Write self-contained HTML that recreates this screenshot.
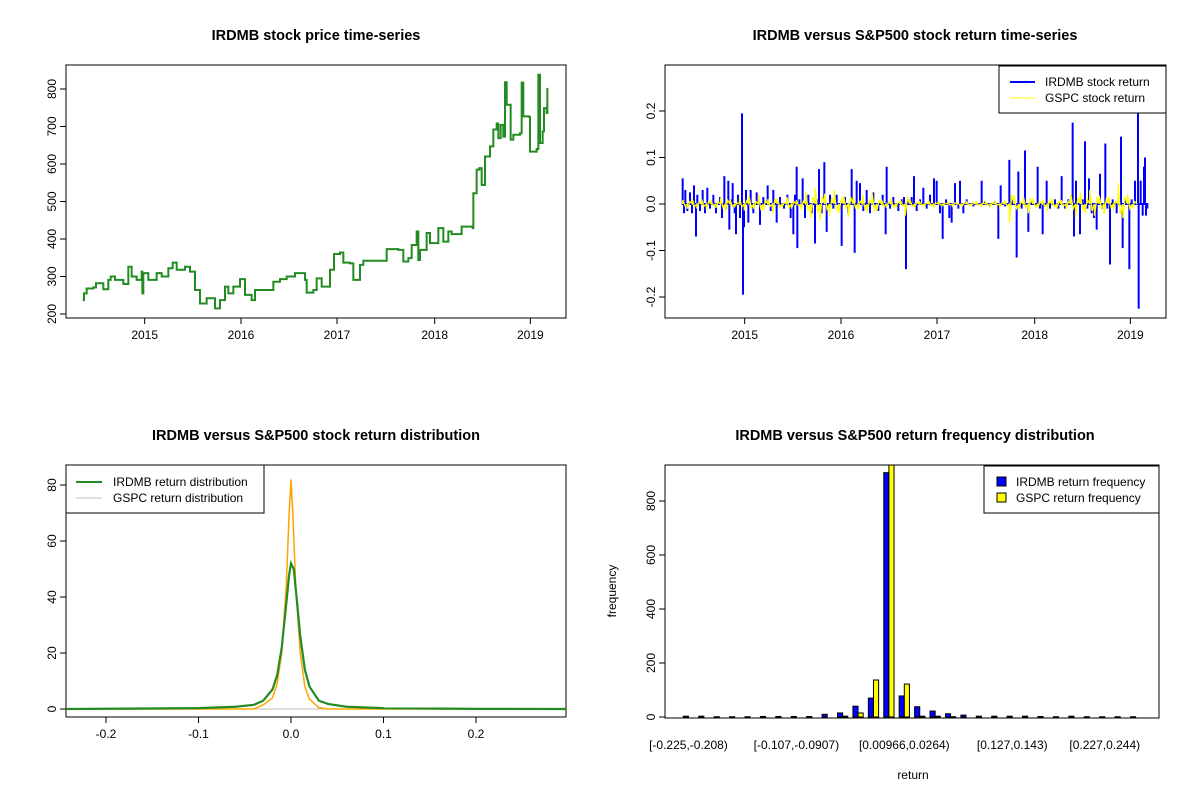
<!DOCTYPE html>
<html><head><meta charset="utf-8"><style>
body{margin:0;background:#fff;}
svg{display:block;font-family:"Liberation Sans",Arial,sans-serif;}
.t{font-weight:bold;font-size:14.5px;text-anchor:middle;}
.tk{font-size:12px;}
</style></head><body>
<svg id="c" width="1200" height="800" xmlns="http://www.w3.org/2000/svg">
<rect width="1200" height="800" fill="#fff"/>
<text class="t" x="316" y="40">IRDMB stock price time-series</text>
<text class="t" x="915" y="40">IRDMB versus S&amp;P500 stock return time-series</text>
<text class="t" x="316" y="440">IRDMB versus S&amp;P500 stock return distribution</text>
<text class="t" x="915" y="440">IRDMB versus S&amp;P500 return frequency distribution</text>
<g id="g"></g>
</svg>
<script>
// ---------- data ----------
const priceDay = [68,72,80,100,108,130,145,152,165,190,205,215,230,245,247,250,265,290,305,325,338,350,375,390,405,420,440,465,480,495,505,520,540,555,575,585,610,640,660,680,705,735,740,760,770,785,810,822,840,850,870,880,900,910,965,980,1015,1030,1045,1055,1070,1075,1080,1100,1110,1135,1150,1165,1175,1205,1238,1240,1250,1258,1265,1275,1290,1300,1310,1315,1322,1330,1335,1340,1352,1360,1380,1385,1390,1408,1410,1430,1435,1440,1448,1452,1460,1462];
const priceVal = [237,255,268,271,282,266,291,300,291,280,326,300,291,313,255,309,291,309,300,322,337,318,326,313,264,228,242,215,237,273,255,273,293,251,237,264,264,286,293,300,309,291,257,264,295,273,318,360,364,337,335,291,331,342,342,373,371,340,349,384,420,344,371,416,389,429,393,420,413,433,429,522,585,589,544,620,647,692,708,669,704,673,818,758,665,678,682,817,727,725,633,640,838,656,687,749,736,803,794];
const yearTicks = [2015,2016,2017,2018,2019];
const yearTickDay = [254,543,831,1124,1411];
const priceTicks = [200,300,400,500,600,700,800];

const irDay = [68,72,76,82,90,96,102,108,112,120,128,135,142,150,160,168,180,186,193,198,205,208,214,218,224,228,234,240,246,249,252,258,265,272,280,290,300,310,323,332,340,350,360,372,382,392,400,405,410,412,418,428,435,445,455,465,470,477,485,493,500,510,520,530,545,555,565,575,584,590,600,610,620,630,640,655,668,677,680,690,700,715,725,732,738,745,755,762,770,780,790,800,810,822,830,840,848,858,868,875,885,895,900,910,920,940,965,975,990,1005,1015,1022,1035,1048,1058,1070,1075,1085,1095,1105,1115,1133,1140,1148,1160,1170,1185,1195,1205,1215,1225,1238,1242,1248,1260,1268,1275,1282,1287,1295,1302,1310,1320,1326,1336,1342,1350,1358,1370,1383,1388,1395,1408,1415,1425,1434,1436,1442,1448,1452,1455,1458,1462];
const irRet = [0.055,-0.02,0.03,-0.015,0.025,-0.02,0.04,-0.07,0.02,-0.015,0.03,-0.02,0.035,-0.01,0.02,-0.02,0.015,-0.03,0.06,-0.01,0.05,-0.055,0.01,0.045,-0.02,-0.065,0.02,-0.03,0.195,-0.195,-0.05,0.03,-0.04,0.03,-0.02,0.025,-0.045,0.015,0.04,-0.015,0.03,-0.04,0.015,-0.01,0.02,-0.03,-0.065,0.02,0.08,-0.095,0.01,0.055,-0.03,0.02,-0.02,-0.085,0.01,0.075,-0.02,0.09,-0.06,0.02,-0.01,0.02,-0.09,0.015,-0.02,0.075,-0.105,0.05,0.045,-0.015,0.03,-0.02,0.025,-0.015,0.02,-0.065,0.08,-0.01,0.015,-0.015,0.01,0.015,-0.14,0.01,0.015,0.06,-0.015,0.01,0.035,-0.01,0.02,0.055,0.05,-0.02,-0.075,0.01,-0.03,-0.04,0.045,-0.01,0.05,-0.02,0.01,-0.005,0.05,0.005,-0.005,0.005,-0.075,0.04,-0.005,0.095,0.01,-0.115,0.07,-0.01,0.115,-0.06,0.005,0.08,-0.01,-0.065,0.05,-0.01,0.01,-0.01,0.06,-0.01,0.01,0.175,-0.07,0.05,-0.065,0.01,0.135,-0.01,0.055,-0.02,-0.03,-0.055,0.065,-0.01,0.13,-0.01,-0.13,0.01,-0.02,0.145,-0.095,0.01,-0.14,0.01,0.05,0.195,-0.225,0.05,-0.025,0.08,0.1,-0.025,-0.01];
const spRet = [0.008,-0.01,0.012,-0.006,0.01,-0.012,0.006,-0.008,0.014,-0.016,0.01,-0.005,0.012,-0.014,0.018,-0.01,0.02,-0.015,0.01,-0.02,0.012,-0.006,0.015,-0.01,0.008,-0.012,0.025,-0.03,0.035,-0.035,0.022,-0.025,0.03,-0.02,0.018,-0.028,0.015,-0.012,0.02,-0.018,0.025,-0.015,0.01,-0.008,0.012,-0.01,0.008,-0.025,0.01,-0.006,0.005,-0.004,0.006,-0.005,0.004,-0.003,0.005,-0.004,0.003,-0.005,0.004,-0.003,0.005,-0.004,0.006,-0.005,0.004,-0.006,0.008,-0.04,0.02,-0.01,0.015,-0.02,0.012,-0.008,0.01,-0.015,0.012,-0.01,0.008,-0.012,0.02,-0.03,0.025,-0.02,0.03,-0.025,0.018,-0.022,0.015,-0.012,0.045,-0.03,0.02,-0.01];
const spStartDay = 68, spStepDay = 14.2;
const retTicks = [-0.2,-0.1,0.0,0.1,0.2];

const densX = [-0.243,-0.1,-0.06,-0.04,-0.03,-0.02,-0.015,-0.01,-0.005,-0.002,0,0.003,0.006,0.01,0.015,0.02,0.03,0.04,0.06,0.1,0.2,0.297];
const densIR = [0,0.3,0.8,1.5,3,7,12,22,38,48,52,50,40,26,14,8,3,1.8,0.8,0.3,0.05,0];
const densSPx = [-0.243,-0.04,-0.03,-0.02,-0.015,-0.01,-0.005,-0.002,0,0.002,0.005,0.01,0.015,0.02,0.03,0.04,0.297];
const densSP = [0,0,1.5,4,9,20,45,70,82,70,45,20,8,3.5,0.5,0,0];
const densXTicks = [-0.2,-0.1,0.0,0.1,0.2];
const densYTicks = [0,20,40,60,80];

const freqIR = [3,3,1,1,1,2,2,2,2,10,15,40,70,905,78,38,22,12,7,3,3,3,3,2,1,3,1,1,1,1];
const freqSP = [0,0,0,0,0,0,0,0,0,0,3,15,137,1000,122,3,3,1,0,0,0,0,0,0,0,0,0,0,0,0];
const binLabels = ["[-0.225,-0.208)","[-0.107,-0.0907)","[0.00966,0.0264)","[0.127,0.143)","[0.227,0.244)"];
const binLabelIdx = [0,7,14,21,27];
const freqTicks = [0,200,400,600,800];

// ---------- helpers ----------
const NS="http://www.w3.org/2000/svg", G=document.getElementById('g');
function el(tag,attrs,parent){const e=document.createElementNS(NS,tag);for(const k in attrs)e.setAttribute(k,attrs[k]);(parent||G).appendChild(e);return e;}
function txt(x,y,s,attrs){const e=el('text',Object.assign({x:x,y:y,class:'tk'},attrs||{}));e.textContent=s;return e;}
function box(x0,y0,x1,y1,name){const r=el('rect',{x:x0,y:y0,width:x1-x0,height:y1-y0,fill:'none',stroke:'#000','stroke-width':1});

}
function yAxis(ticks,x0,fy,name,fmt){const g=el('g',{});


ticks.forEach(v=>{const y=fy(v);el('line',{x1:x0,x2:x0-6,y1:y,y2:y,stroke:'#000'},g);
const t=txt(x0-10,y,fmt?fmt(v):String(v),{transform:`rotate(-90 ${x0-10} ${y})`,'text-anchor':'middle'});g.appendChild(t);});}
function xAxis(ticks,labels,y0,fx,name){const g=el('g',{});


ticks.forEach((v,i)=>{const x=fx(v);el('line',{x1:x,x2:x,y1:y0,y2:y0+6,stroke:'#000'},g);
const t=txt(x,y0+21,labels[i],{'text-anchor':'middle'});g.appendChild(t);});}

// ---------- panel 1: price ----------
const p1x=d=>60+d/3, p1y=p=>314-(p-200)*0.375;
box(66,65,566,318,'price-plot-area');
xAxis(yearTickDay,yearTicks.map(String),318,p1x,'price-x-axis');
yAxis(priceTicks,66,p1y,'price-y-axis');
let pd='';priceDay.forEach((d,i)=>{const x=p1x(d),y=p1y(priceVal[i]);if(i===0)pd+=`M${x},${y}`;else pd+=`H${x}V${y}`;});
const pl=el('path',{d:pd,fill:'none',stroke:'#228B22','stroke-width':2});



// ---------- panel 2: returns ----------
const p2x=d=>660+d/3, p2y=v=>204-v*465;
box(665,65,1166,318,'return-plot-area');
xAxis(yearTickDay,yearTicks.map(String),318,p2x,'return-x-axis');
yAxis(retTicks,665,p2y,'return-y-axis',v=>v.toFixed(1));
const y0r=p2y(0);
let rd=`M${p2x(irDay[0])},${y0r}`;irDay.forEach((d,i)=>{const x=p2x(d),y=p2y(irRet[i]);rd+=`H${x}V${y}V${y0r}`;});
const rl=el('path',{d:rd,fill:'none',stroke:'#0000ff','stroke-width':2});


let sd=`M${p2x(spStartDay)},${y0r}`;spRet.forEach((v,i)=>{const x=p2x(spStartDay+i*spStepDay),y=p2y(v);sd+=`L${x},${y}L${x+spStepDay/6},${y0r-(y-y0r)*0.5}L${x+spStepDay/3},${y0r}`;});
const sl=el('path',{d:sd,fill:'none',stroke:'#ffff00','stroke-width':1.3});


const lg2=el('g',{});


el('rect',{x:999,y:66,width:167,height:47,fill:'#fff',stroke:'#000'},lg2);
el('line',{x1:1010,x2:1035,y1:82,y2:82,stroke:'#00f','stroke-width':2},lg2);
el('line',{x1:1010,x2:1035,y1:98,y2:98,stroke:'#ffff00','stroke-width':1},lg2);
lg2.appendChild(txt(1045,86,'IRDMB stock return'));
lg2.appendChild(txt(1045,102,'GSPC stock return'));

// ---------- panel 3: density ----------
const p3x=v=>291+v*925, p3y=v=>709-v*2.8;
box(66,465,566,717,'density-plot-area');
xAxis(densXTicks,densXTicks.map(v=>v.toFixed(1)),717,p3x,'density-x-axis');
yAxis(densYTicks,66,p3y,'density-y-axis');
const zl=el('line',{x1:66,x2:566,y1:p3y(0),y2:p3y(0),stroke:'#bebebe'});


let gd='';densSPx.forEach((x,i)=>{gd+=(i?'L':'M')+p3x(x)+','+p3y(densSP[i]*0.98);});
const gl=el('path',{d:gd,fill:'none',stroke:'#bebebe','stroke-width':1});


let od='';densSPx.forEach((x,i)=>{od+=(i?'L':'M')+p3x(x)+','+p3y(densSP[i]);});
const ol=el('path',{d:od,fill:'none',stroke:'#ffa500','stroke-width':1.5});


let dd='';densX.forEach((x,i)=>{dd+=(i?'L':'M')+p3x(x)+','+p3y(densIR[i]);});
const dl=el('path',{d:dd,fill:'none',stroke:'#228B22','stroke-width':2.2});


const lg3=el('g',{});


el('rect',{x:66,y:465,width:198,height:48,fill:'#fff',stroke:'#000'},lg3);
el('line',{x1:76,x2:102,y1:482,y2:482,stroke:'#228B22','stroke-width':2},lg3);
el('line',{x1:76,x2:102,y1:498,y2:498,stroke:'#bebebe','stroke-width':1},lg3);
lg3.appendChild(txt(113,486,'IRDMB return distribution'));
lg3.appendChild(txt(113,502,'GSPC return distribution'));

// ---------- panel 4: histogram ----------
const p4x=u=>665+(u+2.56)*5.14, p4y=v=>717-v*0.27;
const clip=el('clipPath',{id:'c4'});el('rect',{x:665,y:465,width:494,height:253},clip);
const bars=el('g',{'clip-path':'url(#c4)'});


freqIR.forEach((v,k)=>{
 const x=p4x(3*k+1),w=p4x(3*k+2)-x;
 const b=el('rect',{x:x,y:p4y(v),width:w,height:p4y(0)-p4y(v),fill:'#0000ff',stroke:'#000','stroke-width':1},bars);
 
 
 const v2=freqSP[k];const x2=p4x(3*k+2);
 const b2=el('rect',{x:x2,y:p4y(v2),width:w,height:p4y(0)-p4y(v2),fill:'#ffff00',stroke:'#000','stroke-width':1},bars);
 
 
});
box(665,465,1159,718,'histogram-plot-area');
yAxis(freqTicks,665,p4y,'frequency-y-axis');
const xl=el('g',{});


binLabelIdx.forEach((k,i)=>{xl.appendChild(txt(p4x(3*k+2),749,binLabels[i],{'text-anchor':'middle'}));});
const yt=txt(616,591,'frequency',{transform:'rotate(-90 616 591)','text-anchor':'middle'});


const xt=txt(913,779,'return',{'text-anchor':'middle'});


const lg4=el('g',{});


el('rect',{x:984,y:466,width:175,height:47,fill:'#fff',stroke:'#000'},lg4);
el('rect',{x:997,y:477,width:9,height:9,fill:'#0000ff',stroke:'#000'},lg4);
el('rect',{x:997,y:493,width:9,height:9,fill:'#ffff00',stroke:'#000'},lg4);
lg4.appendChild(txt(1016,486,'IRDMB return frequency'));
lg4.appendChild(txt(1016,502,'GSPC return frequency'));
</script>
</body></html>
